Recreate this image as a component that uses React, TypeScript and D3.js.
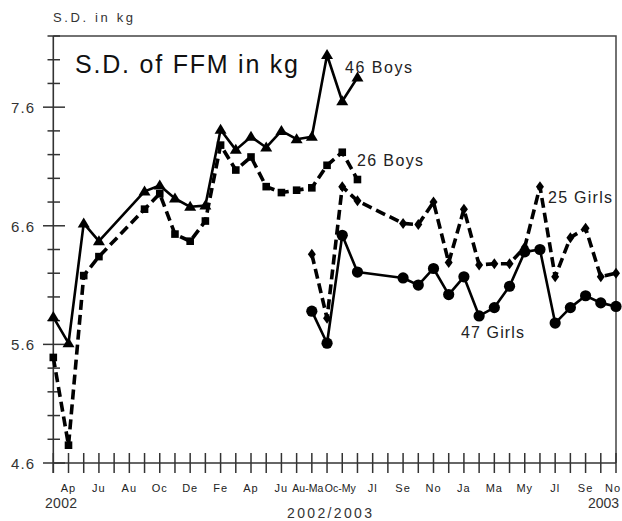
import React from "react";
import * as d3 from "d3";

// Month index 0 = March 2002, one tick per month up to index 37.
const monthCount = 38;
const tickLabels: [number, string][] = [
  [1, "Ap"], [3, "Ju"], [5, "Au"], [7, "Oc"], [9, "De"], [11, "Fe"], [13, "Ap"],
  [15, "Ju"], [17, "Au-Ma"], [19, "Oc-My"], [21, "Jl"], [23, "Se"], [25, "No"],
  [27, "Ja"], [29, "Ma"], [31, "My"], [33, "Jl"], [35, "Se"], [37, "No"],
];
const yMajor = [4.6, 5.6, 6.6, 7.6];

// Standard deviation of fat-free mass (kg); null = no measurement that month.
const boys46Start = 0;
const boys46 = [5.83, 5.61, 6.62, 6.47, null, null, 6.89, 6.94, 6.83, 6.76, 6.77, 7.41, 7.24, 7.35, 7.26, 7.4, 7.33, 7.35, 8.04, 7.65, 7.85];
const boys26Start = 0;
const boys26 = [5.49, 4.75, 6.18, 6.34, null, null, 6.74, 6.87, 6.53, 6.47, 6.64, 7.28, 7.07, 7.18, 6.93, 6.88, 6.9, 6.92, 7.11, 7.22, 6.99];
const girls25Start = 17;
const girls25 = [6.36, 5.82, 6.93, 6.81, null, null, 6.62, 6.61, 6.8, 6.29, 6.74, 6.27, 6.28, 6.28, 6.42, 6.93, 6.17, 6.5, 6.58, 6.17, 6.2];
const girls47Start = 17;
const girls47 = [5.88, 5.61, 6.52, 6.21, null, null, 6.16, 6.1, 6.24, 6.02, 6.17, 5.84, 5.91, 6.09, 6.38, 6.4, 5.78, 5.91, 6.01, 5.95, 5.92];

type Pt = { i: number; v: number };
// Missing months are skipped; the line bridges straight across them.
const toPts = (start: number, vals: (number | null)[]): Pt[] =>
  vals
    .map((v, k) => ({ i: start + k, v }))
    .filter((p): p is Pt => p.v !== null);

const W = 622;
const H = 521;
const x = d3.scaleLinear().domain([0, monthCount - 1]).range([53.3, 616]);
const y = d3.scaleLinear().domain([4.6, 8.2]).range([463, 36]);
const line = d3
  .line<Pt>()
  .x((d) => x(d.i))
  .y((d) => y(d.v));

const FONT = "'Liberation Sans', Arial, sans-serif";

function Marker({ kind, cx, cy }: { kind: string; cx: number; cy: number }) {
  if (kind === "tri") {
    return <path d={`M${cx},${cy - 6}L${cx + 6},${cy + 4}L${cx - 6},${cy + 4}Z`} fill="#000" />;
  }
  if (kind === "sq") {
    return <rect x={cx - 3.8} y={cy - 3.8} width={7.6} height={7.6} fill="#000" />;
  }
  if (kind === "dia") {
    return <path d={`M${cx},${cy - 5.5}L${cx + 4},${cy}L${cx},${cy + 5.5}L${cx - 4},${cy}Z`} fill="#000" />;
  }
  return <circle cx={cx} cy={cy} r={5.6} fill="#000" />;
}

function Series({ pts, dashed, kind }: { pts: Pt[]; dashed: boolean; kind: string }) {
  return (
    <g>
      <path
        d={line(pts) || ""}
        fill="none"
        stroke="#000"
        strokeWidth={dashed ? 3.6 : 2.6}
        strokeDasharray={dashed ? "10,5" : undefined}
        strokeLinejoin="round"
      />
      {pts.map((p) => (
        <Marker key={p.i} kind={kind} cx={x(p.i)} cy={y(p.v)} />
      ))}
    </g>
  );
}

export default function App() {
  const minor = d3.range(4.6, 8.21, 0.2).map((v) => +v.toFixed(1));
  const months = d3.range(monthCount);
  return (
    <div style={{ position: "fixed", left: 0, top: 0 }}>
      <svg width={W} height={H} style={{ display: "block", background: "#fff" }} fontFamily={FONT}>
        {/* frame */}
        <path d={`M${x(0)},${y(8.2)}H${x(37)}V${y(4.6)}`} fill="none" stroke="#444" strokeWidth={1.5} />
        <line x1={x(0)} x2={x(0)} y1={y(8.2)} y2={473} stroke="#333" strokeWidth={1.6} />
        <line x1={x(0)} x2={x(37)} y1={y(4.6)} y2={y(4.6)} stroke="#333" strokeWidth={1.6} />

        {/* y ticks */}
        {minor.map((v) => {
          const major = yMajor.some((m) => Math.abs(m - v) < 1e-6);
          return (
            <line
              key={v}
              x1={major ? 43 : 47.5}
              x2={major ? 65 : 60}
              y1={y(v)}
              y2={y(v)}
              stroke="#333"
              strokeWidth={1.5}
            />
          );
        })}
        {yMajor.map((v) => (
          <text key={v} x={34} y={y(v) + 6} textAnchor="end" fontSize={15} fill="#333" textLength={23} lengthAdjust="spacing">
            {v.toFixed(1)}
          </text>
        ))}

        {/* x ticks */}
        {months.map((i) => (
          <line key={i} x1={x(i)} x2={x(i)} y1={453} y2={473} stroke="#333" strokeWidth={1.5} />
        ))}
        {tickLabels.map(([i, t]) => {
          const wide = t.length > 2;
          const last = i === monthCount - 1;
          return (
            <text
              key={i}
              x={last ? 621 : x(i) + (i === 17 ? -4 : i === 19 ? -2 : 0)}
              y={492}
              textAnchor={last ? "end" : "middle"}
              fontSize={wide ? 10.5 : 11}
              fill="#222"
              letterSpacing={wide ? 0 : 1}
            >
              {t}
            </text>
          );
        })}
        <text x={45} y={508} fontSize={14} fill="#333" textLength={32} lengthAdjust="spacing">2002</text>
        <text x={287} y={518} fontSize={14} fill="#333" textLength={85} lengthAdjust="spacing">2002/2003</text>
        <text x={588} y={508} fontSize={14} fill="#333" textLength={31} lengthAdjust="spacing">2003</text>

        {/* titles */}
        <text x={53} y={22} fontSize={13} fill="#333" textLength={80} lengthAdjust="spacing">S.D. in kg</text>
        <text x={75} y={73} fontSize={25} fill="#111" textLength={223} lengthAdjust="spacing">S.D. of FFM in kg</text>

        {/* series */}
        <Series pts={toPts(boys26Start, boys26)} dashed kind="sq" />
        <Series pts={toPts(girls25Start, girls25)} dashed kind="dia" />
        <Series pts={toPts(boys46Start, boys46)} dashed={false} kind="tri" />
        <Series pts={toPts(girls47Start, girls47)} dashed={false} kind="circ" />

        {/* series labels */}
        <text x={345} y={73} fontSize={16} fill="#222" textLength={67} lengthAdjust="spacing">46 Boys</text>
        <text x={357} y={166} fontSize={16} fill="#222" textLength={66} lengthAdjust="spacing">26 Boys</text>
        <text x={548} y={203} fontSize={16} fill="#222" textLength={64} lengthAdjust="spacing">25 Girls</text>
        <text x={461} y={338} fontSize={16} fill="#222" textLength={63} lengthAdjust="spacing">47 Girls</text>
      </svg>
    </div>
  );
}
